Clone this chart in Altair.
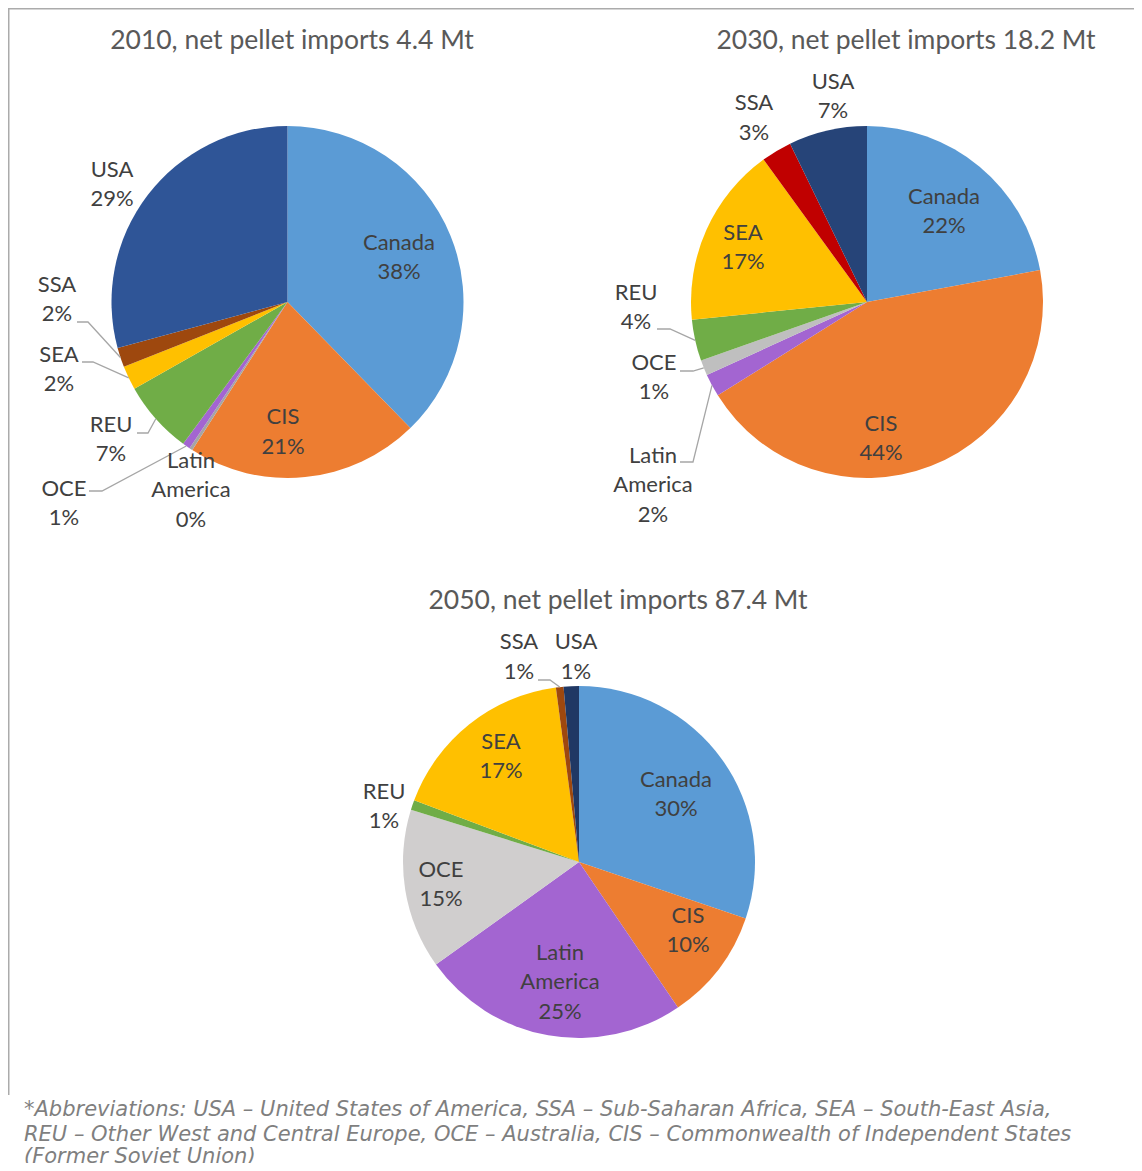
import math
import altair as alt
import pandas as pd

# ---------------- data ----------------
categories = ["Canada", "CIS", "Latin America", "OCE", "REU", "SEA", "SSA", "USA"]
years = [2010, 2030, 2050]
net_imports_mt = [4.4, 18.2, 87.4]
share_2010 = [37.7, 21.4, 0.3, 0.7, 6.7, 2.2, 1.8, 29.2]
share_2030 = [22.1, 44.0, 2.1, 1.4, 3.8, 16.6, 2.8, 7.2]
share_2050 = [30.2, 10.3, 24.6, 14.7, 0.9, 17.2, 0.7, 1.4]
footnote_lines = [
    "*Abbreviations: USA \u2013 United States of America, SSA \u2013 Sub-Saharan Africa, SEA \u2013 South-East Asia,",
    "REU \u2013 Other West and Central Europe, OCE \u2013 Australia, CIS \u2013 Commonwealth of Independent States",
    "(Former Soviet Union)",
]

# ---------------- layout / style (screen pixels) ----------------
OFF = 8          # page margin
R = 176          # pie radius
LH = 29.5        # label line height
CENTERS = {2010: (287.5, 302), 2030: (867, 302), 2050: (579, 862)}
TITLE_POS = {2010: (292, 49), 2030: (906, 49), 2050: (618, 609)}
BASE_COL = {"Canada": "#5B9BD5", "CIS": "#ED7D31", "REU": "#70AD47", "SEA": "#FFC000"}
YEAR_COL = {
    2010: {"Latin America": "#A5A5A5", "OCE": "#A365D1", "SSA": "#9E480E", "USA": "#2F5597"},
    2030: {"Latin America": "#A365D1", "OCE": "#BFBFBF", "SSA": "#C00000", "USA": "#264478"},
    2050: {"Latin America": "#A365D1", "OCE": "#D0CECE", "SSA": "#9E480E", "USA": "#203864"},
}
# centre of each label block
LABEL_POS = {
    2010: {"Canada": (399, 257.5), "CIS": (283, 432), "Latin America": (191, 490),
           "OCE": (64, 503.5), "REU": (111, 439.5), "SEA": (59, 369.5),
           "SSA": (57, 299.5), "USA": (112, 184.5)},
    2030: {"Canada": (944, 211.5), "CIS": (881, 438.5), "Latin America": (653, 485),
           "OCE": (654, 377.5), "REU": (636, 307.5), "SEA": (743, 247.5),
           "SSA": (754, 118), "USA": (833, 96.5)},
    2050: {"Canada": (676, 794.5), "CIS": (688, 930.5), "Latin America": (560, 982),
           "OCE": (441, 884.5), "REU": (384, 806.5), "SEA": (501, 756.5),
           "SSA": (519, 657), "USA": (576, 657)},
}
LEADERS = {
    (2010, "SSA"): [(77, 322), (88, 322)],
    (2010, "SEA"): [(82, 362), (93, 362)],
    (2010, "REU"): [(137, 433), (148, 433)],
    (2010, "OCE"): [(89, 491), (102, 491)],
    (2030, "REU"): [(657, 329), (670, 329)],
    (2030, "OCE"): [(680, 371), (693, 371)],
    (2030, "Latin America"): [(680, 462), (693, 462)],
    (2050, "SSA"): [(538, 680), (550, 680)],
}
LABEL_FONT = "Lato"
LABEL_COLOR = "#404040"

# ---------------- tables ----------------
slice_rows, label_rows, line_rows, title_rows = [], [], [], []
for yr, total, shares in zip(years, net_imports_mt, [share_2010, share_2030, share_2050]):
    cx, cy = CENTERS[yr]
    cum = 0.0
    for i, (cat, v) in enumerate(zip(categories, shares)):
        mid = (cum + v / 2) / 100 * 2 * math.pi
        cum += v
        col = BASE_COL.get(cat) or YEAR_COL[yr][cat]
        slice_rows.append({"year": yr, "cat": cat, "share": v, "idx": i, "color": col})
        name = "Latin\nAmerica" if cat == "Latin America" else cat
        text = f"{name}\n{round(v)}%"
        n_lines = text.count("\n") + 1
        lx, ly = LABEL_POS[yr][cat]
        label_rows.append({"lx": lx - OFF, "ly": ly - OFF - (n_lines - 1) * LH / 2,
                           "text": text})
        if (yr, cat) in LEADERS:
            pts = LEADERS[(yr, cat)] + [(cx + R * math.sin(mid), cy - R * math.cos(mid))]
            for k, (px, py) in enumerate(pts):
                line_rows.append({"lid": f"{yr}-{cat}", "k": k, "px": px - OFF, "py": py - OFF})
    tx, ty = TITLE_POS[yr]
    title_rows.append({"tx": tx - OFF, "ty": ty - OFF,
                       "title": f"{yr}, net pellet imports {total} Mt"})

df_slices = pd.DataFrame(slice_rows)
df_labels = pd.DataFrame(label_rows)
df_lines = pd.DataFrame(line_rows)
df_titles = pd.DataFrame(title_rows)
df_foot = pd.DataFrame({"t": footnote_lines, "fy": [1110 - OFF, 1135 - OFF, 1157 - OFF]})

W, H = 1126, 1155

layers = []
for yr in years:
    cx, cy = CENTERS[yr]
    layers.append(
        alt.Chart(df_slices[df_slices.year == yr])
        .mark_arc(outerRadius=R)
        .encode(
            theta=alt.Theta("share:Q", stack=True),
            color=alt.Color("color:N", scale=None),
            order=alt.Order("idx:Q"),
            x=alt.value(cx - OFF),
            y=alt.value(cy - OFF),
        )
    )

lines = alt.Chart(df_lines).mark_line(color="#A6A6A6", strokeWidth=1.3).encode(
    x=alt.X("px:Q", scale=None, axis=None),
    y=alt.Y("py:Q", scale=None, axis=None),
    detail="lid:N",
    order="k:Q",
)

labels = alt.Chart(df_labels).mark_text(
    font=LABEL_FONT, fontSize=22, color=LABEL_COLOR, lineBreak="\n",
    lineHeight=LH, align="center", baseline="middle",
).encode(
    x=alt.X("lx:Q", scale=None, axis=None),
    y=alt.Y("ly:Q", scale=None, axis=None),
    text="text:N",
)

titles = alt.Chart(df_titles).mark_text(
    font=LABEL_FONT, fontSize=26.5, color="#595959", align="center", baseline="alphabetic",
).encode(
    x=alt.X("tx:Q", scale=None, axis=None),
    y=alt.Y("ty:Q", scale=None, axis=None),
    text="title:N",
)

foot = alt.Chart(df_foot).mark_text(
    font="DejaVu Sans", fontStyle="italic", fontSize=21, color="#7F7F7F",
    align="left", baseline="middle",
).encode(
    x=alt.value(24 - OFF),
    y=alt.Y("fy:Q", scale=None, axis=None),
    text="t:N",
)

frame_df = pd.DataFrame({"a": [0]})
frame_left = alt.Chart(frame_df).mark_rule(color="#ABABAB", strokeWidth=1.5).encode(
    x=alt.value(0.75), y=alt.value(0), y2=alt.value(1095 - OFF)
)
frame_top = alt.Chart(frame_df).mark_rule(color="#ABABAB", strokeWidth=1.5).encode(
    x=alt.value(0), x2=alt.value(W), y=alt.value(0.75)
)

chart = (
    alt.layer(*layers, lines, labels, titles, foot, frame_left, frame_top)
    .resolve_scale(theta="independent")
    .properties(width=W, height=H, padding=0, autosize=alt.AutoSizeParams(type="none"))
    .configure_view(stroke=None)
)

chart.save("out.html", embed_options={"renderer": "svg", "actions": False})
